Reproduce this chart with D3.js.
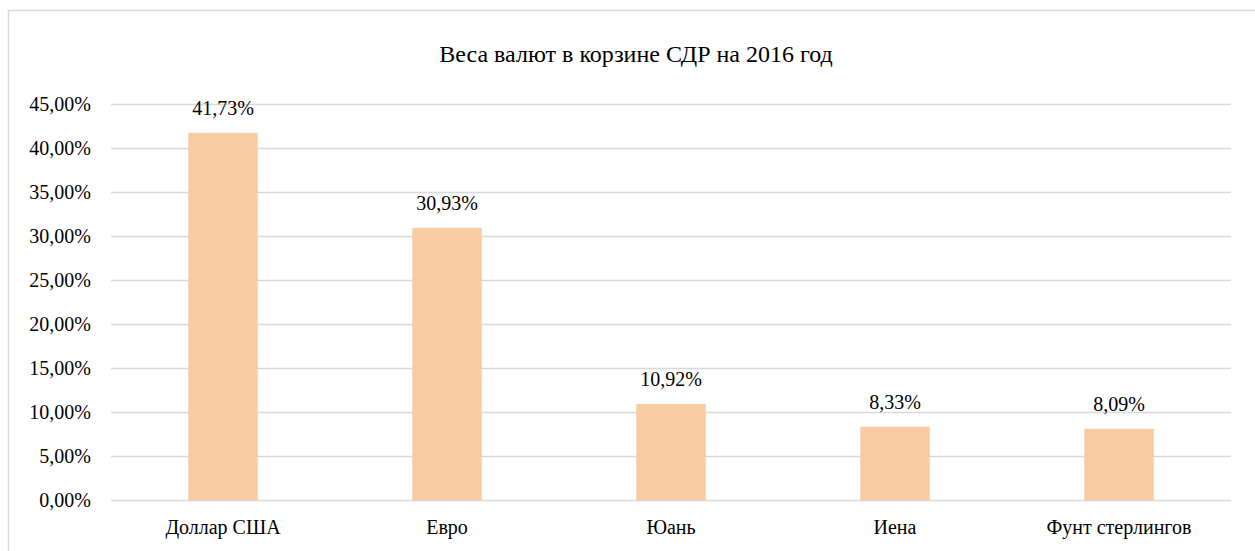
<!DOCTYPE html>
<html><head><meta charset="utf-8">
<script src="https://cdn.jsdelivr.net/npm/d3@7"></script>
<style>body{margin:0;background:#fff;} svg{display:block;} svg text{font-family:"Liberation Serif","Tinos","Times New Roman","DejaVu Serif",serif;}</style>
</head><body>
<svg id="c" width="1255" height="551"></svg>
<script>
const title = "Веса валют в корзине СДР на 2016 год";
const categories = ["Доллар США", "Евро", "Юань", "Иена", "Фунт стерлингов"];
const values = [41.73, 30.93, 10.92, 8.33, 8.09];
const yTicks = [0, 5, 10, 15, 20, 25, 30, 35, 40, 45];

const svg = d3.select("#c");
const m = {left: 111, right: 1231, top: 104, bottom: 500};

svg.append("rect").attr("x", 8.5).attr("y", 10.5).attr("width", 1260).attr("height", 560)
  .attr("fill", "#fff").attr("stroke", "#d9d9d9").attr("stroke-width", 1.5);

const x = d3.scaleBand().domain(categories).range([m.left, m.right]).paddingInner(0.69).paddingOuter(0.345);
const y = d3.scaleLinear().domain([0, 45]).range([m.bottom, m.top]);
const fmt = v => v.toFixed(2).replace(".", ",") + "%";

const ya = svg.append("g").attr("transform", `translate(${m.left},0)`)
  .call(d3.axisLeft(y).tickValues(yTicks).tickSize(-(m.right - m.left)).tickPadding(20).tickFormat(fmt));
ya.select(".domain").remove();
ya.attr("font-family", null);
ya.selectAll(".tick line").attr("stroke", "#d9d9d9").attr("stroke-width", 1.5);
ya.selectAll(".tick text").attr("font-size", 20).attr("fill", "#000");

svg.selectAll("rect.bar").data(values).enter().append("rect").attr("class", "bar")
  .attr("x", (d, i) => x(categories[i])).attr("width", x.bandwidth())
  .attr("y", d => y(d)).attr("height", d => y(0) - y(d)).attr("fill", "#f9cba0");

svg.selectAll("text.lbl").data(values).enter().append("text").attr("class", "lbl")
  .attr("x", (d, i) => x(categories[i]) + x.bandwidth() / 2).attr("y", d => y(d) - 18)
  .attr("text-anchor", "middle").attr("font-size", 20).text(fmt);

const xa = svg.append("g").attr("transform", `translate(0,${m.bottom})`)
  .call(d3.axisBottom(x).tickSize(0).tickPadding(20));
xa.select(".domain").remove();
xa.attr("font-family", null);
xa.selectAll(".tick text").attr("font-size", 20).attr("fill", "#000");

svg.append("text").attr("x", 636).attr("y", 62).attr("text-anchor", "middle")
  .attr("font-size", 24).text(title);
</script>
</body></html>
